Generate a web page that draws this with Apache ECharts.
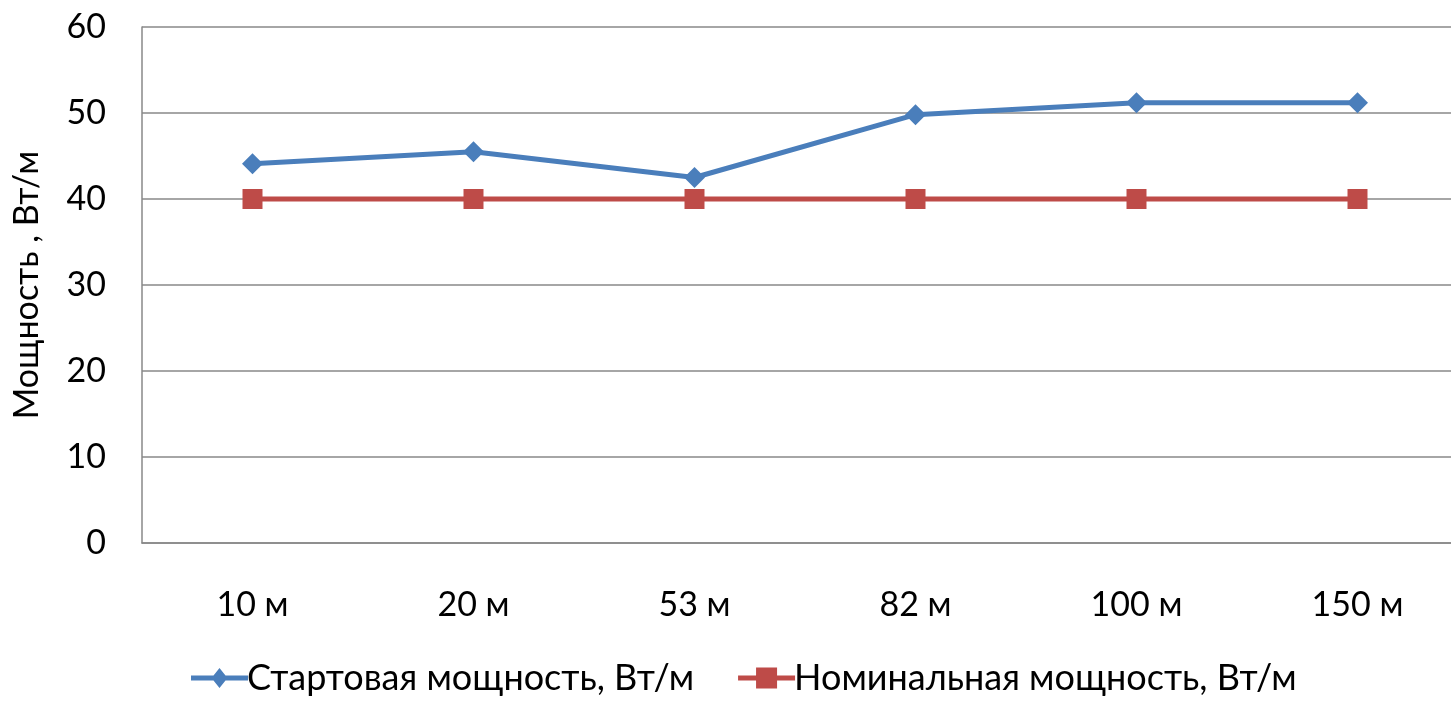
<!DOCTYPE html>
<html>
<head>
<meta charset="utf-8">
<script src="https://cdn.jsdelivr.net/npm/echarts@6/dist/echarts.min.js"></script>
<style>
  html, body { margin: 0; padding: 0; background: #fff; overflow: hidden; }
  /* plot runs past the right edge in the original, so the canvas is a bit wider than the window */
  #chart { width: 1468px; height: 701px; }
</style>
</head>
<body>
<div id="chart"></div>
<script>
var categories = ['10 м', '20 м', '53 м', '82 м', '100 м', '150 м'];
var startPower = [44.1, 45.5, 42.5, 49.8, 51.2, 51.2];
var nominalPower = [40, 40, 40, 40, 40, 40];
var seriesNames = ['Стартовая мощность, Вт/м', 'Номинальная мощность, Вт/м'];
var yTitle = 'Мощность , Вт/м';

var fontName = 'Lato';
var blue = '#4a7ebb';
var red = '#be4b48';

// legend icons: thick line with the marker on top, like the spreadsheet legend
var diamondIcon = 'path://M0,8 L57,8 L57,13 L0,13 Z M28.5,0.5 L36.5,10.5 L28.5,20.5 L20.5,10.5 Z';
var squareIcon = 'path://M0,8 L57,8 L57,13 L0,13 Z M18,0 L39,0 L39,21 L18,21 Z';

var chart = echarts.init(document.getElementById('chart'));

chart.setOption({
  animation: false,
  textStyle: { fontFamily: fontName },
  grid: { left: 142, top: 27, right: 0, bottom: 158 },
  legend: {
    bottom: 0,
    left: 186,
    itemGap: 44,
    itemWidth: 57,
    itemHeight: 21,
    textStyle: { fontFamily: fontName, fontSize: 36, color: '#000', padding: [0, 0, 0, -6] },
    data: [
      { name: seriesNames[0], icon: diamondIcon },
      { name: seriesNames[1], icon: squareIcon }
    ]
  },
  xAxis: {
    type: 'category',
    data: categories,
    boundaryGap: true,
    axisLine: { lineStyle: { color: '#888', width: 1.5 } },
    axisTick: { show: false },
    axisLabel: { color: '#000', fontSize: 34, margin: 45, fontFamily: fontName }
  },
  yAxis: {
    type: 'value',
    min: 0,
    max: 60,
    interval: 10,
    name: yTitle,
    nameLocation: 'middle',
    nameRotate: 90,
    nameGap: 98,
    nameTextStyle: { color: '#000', fontSize: 34, fontFamily: fontName },
    axisLine: { show: true, lineStyle: { color: '#888', width: 1.5 } },
    axisTick: { show: false },
    splitLine: { lineStyle: { color: '#888', width: 1.5 } },
    axisLabel: { color: '#000', fontSize: 34, margin: 36, fontFamily: fontName }
  },
  series: [
    {
      name: seriesNames[0],
      type: 'line',
      data: startPower,
      symbol: 'diamond',
      symbolSize: 21,
      itemStyle: { color: blue },
      lineStyle: { color: blue, width: 5 }
    },
    {
      name: seriesNames[1],
      type: 'line',
      data: nominalPower,
      symbol: 'rect',
      symbolSize: 20,
      itemStyle: { color: red },
      lineStyle: { color: red, width: 5 }
    }
  ]
});
</script>
</body>
</html>
